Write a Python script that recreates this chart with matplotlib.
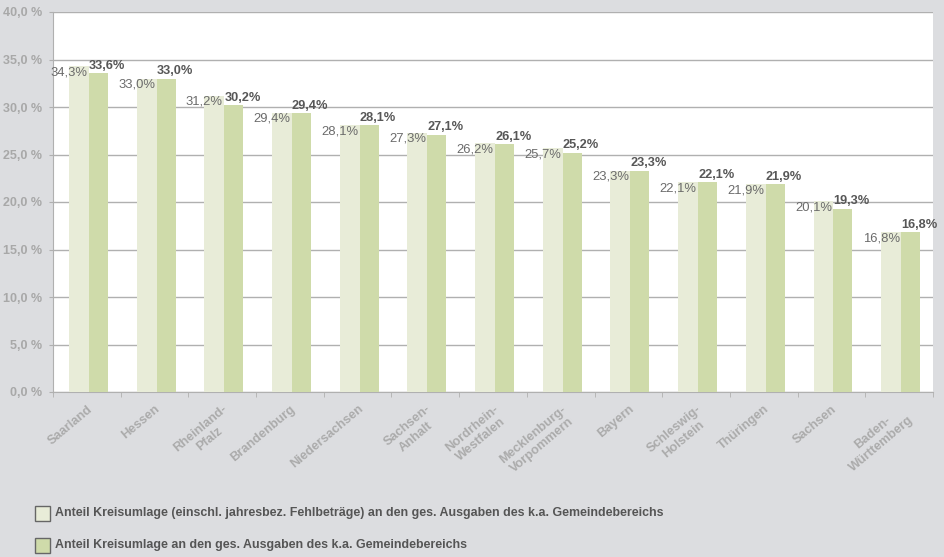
import numpy as np
import matplotlib
matplotlib.use('Agg')
import matplotlib.pyplot as plt
from matplotlib.patches import Rectangle

plt.rcParams['font.family'] = ['Liberation Sans', 'DejaVu Sans']

# data
laender = ['Saarland', 'Hessen', 'Rheinland-\nPfalz', 'Brandenburg', 'Niedersachsen',
           'Sachsen-\nAnhalt', 'Nordrhein-\nWestfalen', 'Mecklenburg-\nVorpommern', 'Bayern',
           'Schleswig-\nHolstein', 'Thüringen', 'Sachsen', 'Baden-\nWürttemberg']
anteil_inkl = [34.3, 33.0, 31.2, 29.4, 28.1, 27.3, 26.2, 25.7, 23.3, 22.1, 21.9, 20.1, 16.8]
anteil = [33.6, 33.0, 30.2, 29.4, 28.1, 27.1, 26.1, 25.2, 23.3, 22.1, 21.9, 19.3, 16.8]
y_ticks = [0, 5, 10, 15, 20, 25, 30, 35, 40]
legend_labels = ['Anteil Kreisumlage (einschl. jahresbez. Fehlbeträge) an den ges. Ausgaben des k.a. Gemeindebereichs',
                 'Anteil Kreisumlage an den ges. Ausgaben des k.a. Gemeindebereichs']

bg = '#dcdde0'
c_light = '#e8ecd8'
c_dark = '#cfdbaa'
grid_c = '#b0b0b0'

def fmt(v):
    return f'{v:.1f}%'.replace('.', ',')

fig = plt.figure(figsize=(9.45, 5.57), dpi=100, facecolor=bg)
ax = fig.add_axes([53/945, 1 - 392/557, 880/945, 380/557])
ax.set_facecolor('white')

x = np.arange(len(laender))
ax.bar(x - 0.265, anteil_inkl, width=0.295, align='edge', color=c_light, zorder=3)
ax.bar(x + 0.03, anteil, width=0.28, align='edge', color=c_dark, zorder=3)

for i in range(len(laender)):
    ax.annotate(fmt(anteil_inkl[i]), (x[i] + 0.03, anteil_inkl[i]), xytext=(-1, -4.5),
                textcoords='offset points', ha='right', va='center',
                fontsize=9.4, color='#6b6b6b', zorder=4)
    ax.annotate(fmt(anteil[i]), (x[i] + 0.03, anteil[i]), xytext=(0, 3),
                textcoords='offset points', ha='left', va='baseline',
                fontsize=9.2, fontweight='bold', color='#575757', zorder=4)

ax.set_xlim(-0.5, len(laender) - 0.5)
ax.set_ylim(0, 40)
ax.set_yticks(y_ticks)
ax.set_yticklabels([f'{t:.1f} %'.replace('.', ',') for t in y_ticks],
                   fontsize=9, fontweight='bold', color='#a8a8a8')
ax.yaxis.grid(True, color=grid_c, linewidth=1, zorder=1)
ax.tick_params(axis='y', length=3, color=grid_c, pad=5)

ax.set_xticks(x)
ax.set_xticklabels(laender, rotation=40, ha='right', rotation_mode='anchor',
                   multialignment='center', fontsize=9.2, fontweight='bold', color='#ababab')
ax.set_xticks(np.arange(-0.5, len(laender)), minor=True)
ax.tick_params(axis='x', which='major', length=0, pad=8)
ax.tick_params(axis='x', which='minor', length=3.5, color=grid_c)

for s in ['top', 'right']:
    ax.spines[s].set_visible(False)
for s in ['left', 'bottom']:
    ax.spines[s].set_color(grid_c)

# legend below the chart
for k, lab in enumerate(legend_labels):
    yc = 1 - (513 + 32 * k) / 557
    fig.patches.append(Rectangle((35/945, yc - 7.5/557), 15/945, 15/557,
                                 transform=fig.transFigure, facecolor=[c_light, c_dark][k],
                                 edgecolor='#666666', linewidth=1))
    fig.text(55/945, yc, lab, ha='left', va='center', fontsize=8.9,
             fontweight='bold', color='#555555')

fig.savefig('out.png', dpi=100, facecolor=bg)
